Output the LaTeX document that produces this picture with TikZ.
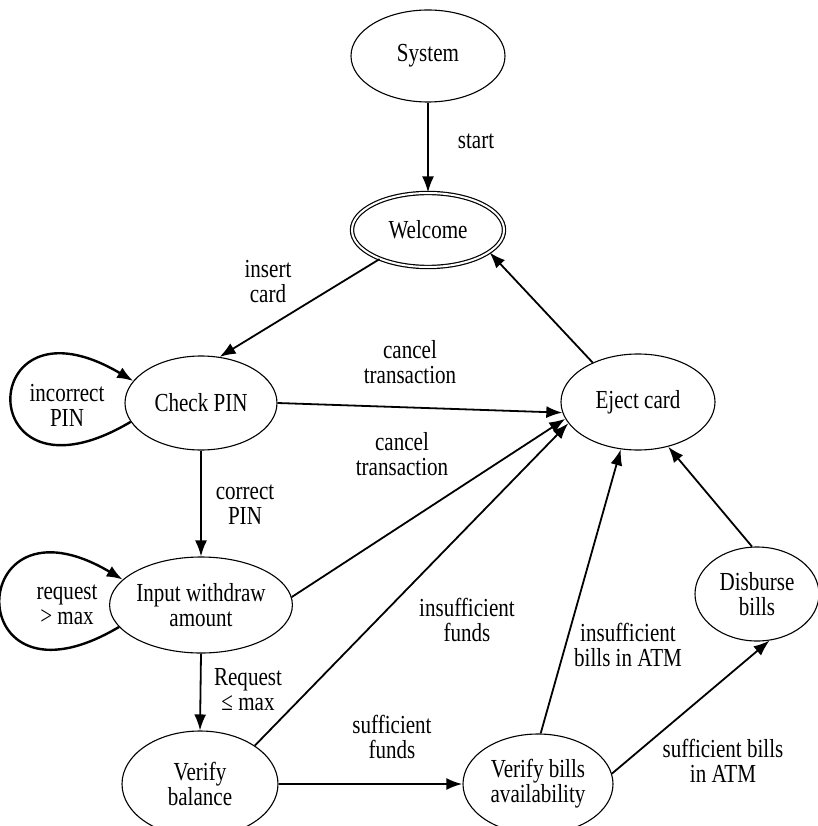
\documentclass[tikz,border=0pt]{standalone}
\usepackage{fontspec}
\setmainfont{Liberation Serif}[FakeStretch=0.81]
\usetikzlibrary{arrows.meta,shapes.geometric}

\begin{document}
\begin{tikzpicture}[x=1pt, y=1pt, every node/.style={font=\fontsize{26}{25}\selectfont, align=center}]
\tikzstyle{state}=[draw, ellipse, line width=1.1pt, inner sep=0pt]
\tikzstyle{arr}=[-{Latex[length=16pt,width=12pt]}, line width=1.8pt]
\tikzstyle{selfloop}=[arr, line width=2.4pt]
\useasboundingbox (0,0) rectangle (817,-826);
\node[state, minimum width=154pt, minimum height=92pt] (sys) at (428,-56) {System};
\node[state, double, double distance=2pt, line width=1.2pt, minimum width=152pt, minimum height=74pt] (wel) at (428,-230) {Welcome};
\node[state, minimum width=152pt, minimum height=94pt] (chk) at (201,-403) {Check PIN};
\node[state, minimum width=154pt, minimum height=96pt] (ej) at (638,-402) {Eject card};
\node[state, minimum width=152pt, minimum height=96pt] (inp) at (201,-605) {Input withdraw\\amount};
\node[state, minimum width=156pt, minimum height=106pt] (bal) at (200,-784) {Verify\\balance};
\node[state, minimum width=150pt, minimum height=100pt] (bil) at (538,-784) {Verify bills\\availability};
\node[state, minimum width=124pt, minimum height=94pt] (dis) at (757,-594) {Disburse\\bills};
\node (lstart) at (476,-141) {start};
\node (linsert) at (268,-282) {insert\\card};
\node (lcancel) at (410,-362) {cancel\\transaction};
\node (lcancelb) at (402,-454) {cancel\\transaction};
\node (lcorrect) at (245,-505) {correct\\PIN};
\node (linsfunds) at (467,-620) {insufficient\\funds};
\node (linsbills) at (628,-645) {insufficient\\bills in ATM};
\node (lreq) at (248,-690) {Request\\≤ max};
\node (lsuff) at (392,-737) {sufficient\\funds};
\node (lsuffbills) at (723,-761) {sufficient bills\\in ATM};
\node (lincorrect) at (67,-405) {incorrect\\PIN};
\node (lreqmax) at (67,-605) {request\\> max};
\draw[arr] (sys.south) -- (wel.north);
\draw[arr] (wel.211) -- (chk.68);
\draw[arr] (ej.139) -- (wel.340);
\draw[arr] (chk.east) -- (ej.188);
\draw[arr] (inp.5) -- (ej.193);
\draw[arr] (bal.35) -- (ej.197);
\draw[arr, line width=2.4pt] (bal) -- (bil);
\draw[arr] (bil.87) -- (ej.250);
\draw[arr] (bil.8) -- (dis.285);
\draw[arr] (dis.96) -- (ej.304);
\draw[arr] (chk.south) -- (inp.north);
\draw[arr] (inp.south) -- (bal.north);
\draw[selfloop] (chk.195) .. controls +(-160,-95) and +(-160,95) .. (chk.162);
\draw[selfloop] (inp.195) .. controls +(-160,-95) and +(-160,95) .. (inp.162);
\end{tikzpicture}
\end{document}
